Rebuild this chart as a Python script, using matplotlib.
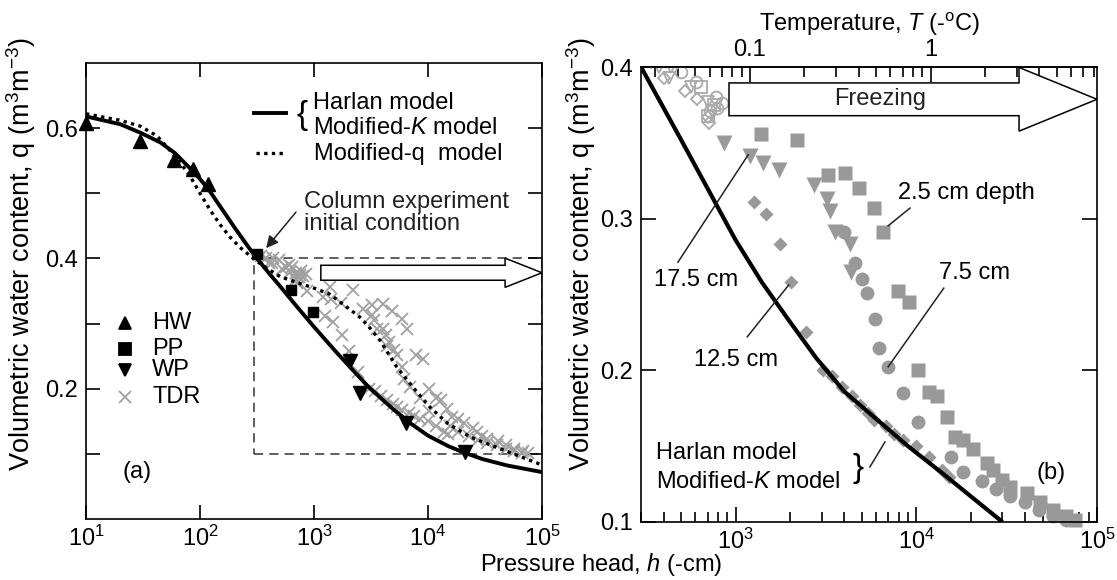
import matplotlib
matplotlib.use('Agg')
import matplotlib.pyplot as plt
import numpy as np
from matplotlib.patches import Polygon, Rectangle
from matplotlib.ticker import FixedLocator, FixedFormatter, NullLocator, NullFormatter

plt.rcParams['font.family'] = ['Liberation Sans', 'DejaVu Sans']
plt.rcParams['mathtext.fontset'] = 'custom'
plt.rcParams['mathtext.rm'] = 'Liberation Sans'
plt.rcParams['mathtext.it'] = 'Liberation Sans:italic'
plt.rcParams['font.size'] = 17

# ---------------- data: panel (a) ----------------
hw_h = [10, 30, 59, 87, 117]
hw_t = [0.608, 0.580, 0.551, 0.537, 0.515]
pp_h = [316, 631, 980]
pp_t = [0.407, 0.352, 0.318]
wp_h = [2070, 2520, 6460, 21000]
wp_t = [0.243, 0.193, 0.147, 0.103]

harlan_a_h = [10, 20, 30, 45, 60, 80, 100, 120, 150, 200, 250, 300, 400, 500, 700,
              1000, 1500, 2000, 3000, 4000, 5000, 7000, 10000, 15000, 20000, 30000,
              50000, 100000]
harlan_a_t = [0.618, 0.606, 0.593, 0.578, 0.562, 0.540, 0.522, 0.505, 0.480, 0.448,
              0.424, 0.405, 0.378, 0.358, 0.327, 0.295, 0.260, 0.236, 0.203, 0.183,
              0.168, 0.147, 0.128, 0.112, 0.103, 0.092, 0.082, 0.072]

modq_h = [10, 20, 30, 42, 55, 71, 82, 100, 122, 150, 183, 224, 275, 355, 505, 710,
          980, 1380, 1950, 2520, 3000, 3800, 5340, 7400, 10500, 14800, 23400, 40000,
          100000]
modq_t = [0.622, 0.612, 0.603, 0.588, 0.565, 0.541, 0.526, 0.500, 0.475, 0.452,
          0.433, 0.417, 0.404, 0.389, 0.372, 0.363, 0.355, 0.345, 0.325, 0.310,
          0.296, 0.274, 0.233, 0.202, 0.171, 0.147, 0.126, 0.110, 0.083]

# ---------------- data: panel (b) ----------------
sq_h = [1390, 2190, 3240, 4020, 4800, 5870, 6550, 7890, 9080, 10200, 11700, 13100,
        14800, 16400, 18200, 20700, 24600, 26700, 30000, 33200, 40800, 48400, 57100,
        67600, 76000]
sq_t = [0.356, 0.352, 0.329, 0.330, 0.320, 0.307, 0.291, 0.252, 0.245, 0.200, 0.186,
        0.183, 0.169, 0.156, 0.154, 0.148, 0.139, 0.134, 0.128, 0.123, 0.119, 0.113,
        0.108, 0.104, 0.101]

ci_h = [4000, 4560, 5020, 5350, 5890, 6200, 6980, 8440, 10200, 15600, 18200, 23000,
        27500, 33000, 40000, 48000, 57000, 67000]
ci_t = [0.291, 0.271, 0.260, 0.251, 0.234, 0.215, 0.202, 0.185, 0.166, 0.143, 0.133,
        0.127, 0.122, 0.117, 0.113, 0.108, 0.104, 0.101]

tr_h = [862, 1200, 1420, 1730, 2710, 3210, 3350, 3560, 4280, 4370]
tr_t = [0.350, 0.341, 0.337, 0.332, 0.322, 0.313, 0.305, 0.291, 0.283, 0.265]

di_h = [1260, 1470, 1760, 2030, 2440, 3040, 3410, 3900, 4400, 4900, 5400, 5870,
        6760, 7500, 8500, 10000, 11700, 13900, 15100]
di_t = [0.311, 0.303, 0.283, 0.258, 0.225, 0.200, 0.196, 0.189, 0.183, 0.177, 0.172,
        0.167, 0.163, 0.158, 0.154, 0.150, 0.143, 0.134, 0.130]

# open (unfrozen) markers
odi_h = [340, 402, 525, 613, 713, 700]
odi_t = [0.403, 0.393, 0.384, 0.379, 0.363, 0.367]
otr_h = [377, 437, 428, 565, 700, 743]
otr_t = [0.400, 0.400, 0.393, 0.387, 0.377, 0.371]
oci_h = [497, 601, 776, 845, 795, 727]
oci_t = [0.397, 0.390, 0.380, 0.376, 0.373, 0.371]
osq_h = [643, 760, 700]
osq_t = [0.387, 0.375, 0.368]

harlan_b_h = [300, 400, 500, 700, 1000, 1400, 2000, 2800, 4000, 6000, 9000, 14000,
              20000, 30000]
harlan_b_t = [0.400, 0.373, 0.352, 0.320, 0.286, 0.258, 0.232, 0.208, 0.186, 0.168,
              0.150, 0.132, 0.117, 0.100]

tdr_h = sq_h + ci_h + tr_h + di_h + odi_h + otr_h + oci_h + osq_h
tdr_t = sq_t + ci_t + tr_t + di_t + odi_t + otr_t + oci_t + osq_t

GRAY = '#999999'
LGRAY = '#aaaaaa'
ylabel = 'Volumetric water content, q (m$^3$m$^{-3}$)'
YLAB_FS = 19.5

fig = plt.figure(figsize=(11.17, 5.8), dpi=100)
axa = fig.add_axes([86/1117, 1-519/580, 456/1117, 456/580])
axb = fig.add_axes([641/1117, 1-522/580, 456/1117, 455/580])

# ================= panel (a) =================
ax = axa
ax.set_xscale('log')
ax.plot(tdr_h, tdr_t, ls='none', marker='x', ms=9, mew=1.3, color='#a0a0a0', zorder=2)
ax.plot(modq_h, modq_t, color='black', lw=2.4, ls=(0, (1, 1.3)), zorder=3)
ax.plot(harlan_a_h, harlan_a_t, color='black', lw=2.8, zorder=3, solid_capstyle='butt')
ax.plot(hw_h, hw_t, ls='none', marker='^', ms=10, color='black', zorder=4, clip_on=False)
ax.plot(pp_h, pp_t, ls='none', marker='s', ms=7.5, color='black', zorder=4)
ax.plot(wp_h, wp_t, ls='none', marker='v', ms=10, color='black', zorder=4)
ax.add_patch(Rectangle((300, 0.1), 1e5 - 300, 0.3, fill=False, ls=(0, (6, 4)),
                       lw=1.1, ec='#333333', zorder=1))
ax.set_xlim(10, 1e5)
ax.set_ylim(0, 0.7)
ax.xaxis.set_major_locator(FixedLocator([10, 100, 1000, 1e4, 1e5]))
ax.xaxis.set_major_formatter(FixedFormatter(['$10^1$', '$10^2$', '$10^3$', '$10^4$', '$10^5$']))
ax.xaxis.set_minor_locator(NullLocator())
ax.yaxis.set_major_locator(FixedLocator([0.1, 0.2, 0.3, 0.4, 0.5, 0.6]))
ax.yaxis.set_major_formatter(FixedFormatter(['', '0.2', '', '0.4', '', '0.6']))
ax.tick_params(which='both', direction='in', top=True, right=True, length=10, width=1.2)
ax.tick_params(axis='x', pad=5)
ax.tick_params(axis='y', pad=6)
for s in ax.spines.values():
    s.set_linewidth(1.2)
ax.set_ylabel(ylabel, fontsize=YLAB_FS)
ax.yaxis.set_label_coords(-0.105, 0.581)

# hollow arrow
bx0, bx1, yc, bh, hh = 0.515, 0.919, 0.540, 0.0164, 0.032
ax.add_patch(Polygon([(bx0, yc - bh), (bx1, yc - bh), (bx1, yc - hh), (1.0, yc),
                      (bx1, yc + hh), (bx1, yc + bh), (bx0, yc + bh)], closed=True,
                     transform=ax.transAxes, fc='white', ec='black', lw=1.1, zorder=5,
                     clip_on=False))

# top legend
ax.plot([0.368, 0.439], [0.890, 0.890], color='black', lw=2.8, transform=ax.transAxes)
ax.plot([0.373, 0.434], [0.803, 0.803], color='black', lw=2.4, ls=(0, (1, 1.3)),
        transform=ax.transAxes)
ax.text(0.474, 0.885, '{', transform=ax.transAxes, ha='center', va='center',
        fontsize=24, fontweight='light')
ax.text(0.497, 0.912, 'Harlan model', transform=ax.transAxes, ha='left', va='center')
ax.text(0.497, 0.857, 'Modified-$K$ model', transform=ax.transAxes, ha='left', va='center')
ax.text(0.500, 0.800, 'Modified-q  model', transform=ax.transAxes, ha='left', va='center')

ax.text(0.477, 0.695, 'Column experiment', transform=ax.transAxes, ha='left',
        va='center', color='#222222')
ax.text(0.477, 0.647, 'initial condition', transform=ax.transAxes, ha='left',
        va='center', color='#222222')
ax.annotate('', xy=(0.395, 0.594), xytext=(0.4605, 0.673), xycoords='axes fraction',
            arrowprops=dict(arrowstyle='-|>', color='#222222', lw=1.1,
                            mutation_scale=18, shrinkA=0, shrinkB=0))

# left legend
lx, tx = 0.0855, 0.145
for y, m, lab, col, ms in [(0.430, '^', 'HW', 'black', 9), (0.373, 's', 'PP', 'black', 8),
                           (0.327, 'v', 'WP', 'black', 9), (0.268, 'x', 'TDR', '#a0a0a0', 8)]:
    ax.plot([lx], [y], marker=m, ms=ms, color=col, mew=1.3, ls='none',
            transform=ax.transAxes)
    ax.text(tx, y, lab, transform=ax.transAxes, ha='left', va='center')
ax.text(0.112, 0.103, '(a)', transform=ax.transAxes, ha='center', va='center')

# ================= panel (b) =================
ax = axb
ax.set_xscale('log')
ax.plot(odi_h, odi_t, ls='none', marker='D', ms=6.5, mfc='none', mec=LGRAY, mew=1.3, zorder=2)
ax.plot(otr_h, otr_t, ls='none', marker='v', ms=9, mfc='none', mec=LGRAY, mew=1.3, zorder=2)
ax.plot(oci_h, oci_t, ls='none', marker='o', ms=8.5, mfc='none', mec=LGRAY, mew=1.3, zorder=2)
ax.plot(osq_h, osq_t, ls='none', marker='s', ms=8, mfc='none', mec=LGRAY, mew=1.3, zorder=2)
ax.plot(sq_h, sq_t, ls='none', marker='s', ms=10, color=GRAY, mec='none', zorder=2, clip_on=False)
ax.plot(ci_h, ci_t, ls='none', marker='o', ms=10, color=GRAY, mec='none', zorder=2, clip_on=False)
ax.plot(tr_h, tr_t, ls='none', marker='v', ms=11, color=GRAY, mec='none', zorder=2)
ax.plot(di_h, di_t, ls='none', marker='D', ms=7, color=GRAY, mec='none', zorder=2)
ax.plot(harlan_b_h, harlan_b_t, color='black', lw=3.0, zorder=3, solid_capstyle='butt')
ax.set_xlim(300, 1e5)
ax.set_ylim(0.1, 0.4)
ax.xaxis.set_major_locator(FixedLocator([1e3, 1e4, 1e5]))
ax.xaxis.set_major_formatter(FixedFormatter(['$10^3$', '$10^4$', '$10^5$']))
minors = [m * 10**e for e in (2, 3, 4) for m in range(2, 10) if 300 <= m * 10**e <= 1e5]
ax.xaxis.set_minor_locator(FixedLocator(minors))
ax.xaxis.set_minor_formatter(NullFormatter())
ax.yaxis.set_major_locator(FixedLocator([0.1, 0.2, 0.3, 0.4]))
ax.yaxis.set_major_formatter(FixedFormatter(['0.1', '0.2', '0.3', '0.4']))
ax.tick_params(which='major', direction='in', top=False, right=True, length=11, width=1.2)
ax.tick_params(which='minor', direction='in', top=False, right=False, length=7, width=1.2)
ax.tick_params(axis='x', pad=5)
ax.tick_params(axis='y', pad=6)
for s in ax.spines.values():
    s.set_linewidth(1.2)
ax.set_ylabel(ylabel, fontsize=YLAB_FS)
ax.yaxis.set_label_coords(-0.094, 0.589)

K = 12000.0
sec = ax.secondary_xaxis('top', functions=(lambda h: np.asarray(h) / K,
                                           lambda T: np.asarray(T) * K))
sec.set_xticks([0.1, 1])
sec.set_xticklabels(['0.1', '1'])
tmin = [m * 10.0**e for e in (-2, -1, 0) for m in range(2, 10)]
sec.xaxis.set_minor_locator(FixedLocator([t for t in tmin if 300 / K <= t <= 1e5 / K]))
sec.xaxis.set_minor_formatter(NullFormatter())
sec.tick_params(which='major', direction='in', length=11, width=1.2, pad=4)
sec.tick_params(which='minor', direction='in', length=7, width=1.2)
sec.spines['top'].set_linewidth(1.2)
sec.set_xlabel('Temperature, $T$ (-$^{\\mathrm{o}}$C)', labelpad=6)

# Freezing arrow
bx0, bx1, yc, bh, hh = 0.193, 0.829, 0.929, 0.036, 0.070
ax.add_patch(Polygon([(bx0, yc - bh), (bx1, yc - bh), (bx1, yc - hh), (1.0, yc),
                      (bx1, yc + hh), (bx1, yc + bh), (bx0, yc + bh)], closed=True,
                     transform=ax.transAxes, fc='white', ec='black', lw=1.1, zorder=5,
                     clip_on=False))
ax.text(0.524, 0.930, 'Freezing', transform=ax.transAxes, ha='center', va='center',
        zorder=6, color='#222222')

def leader(p0, p1):
    ax.plot([p0[0], p1[0]], [p0[1], p1[1]], color='#222222', lw=1.1,
            transform=ax.transAxes, zorder=6)

ax.text(0.5625, 0.723, '2.5 cm depth', transform=ax.transAxes, ha='left', va='center')
leader((0.590, 0.690), (0.542, 0.651))
ax.text(0.653, 0.547, '7.5 cm', transform=ax.transAxes, ha='left', va='center')
leader((0.664, 0.514), (0.542, 0.341))
ax.text(0.0276, 0.532, '17.5 cm', transform=ax.transAxes, ha='left', va='center')
leader((0.081, 0.571), (0.235, 0.807))
ax.text(0.116, 0.356, '12.5 cm', transform=ax.transAxes, ha='left', va='center')
leader((0.233, 0.407), (0.324, 0.521))
ax.text(0.033, 0.152, 'Harlan model', transform=ax.transAxes, ha='left', va='center')
ax.text(0.033, 0.088, 'Modified-$K$ model', transform=ax.transAxes, ha='left', va='center')
ax.text(0.476, 0.117, '}', transform=ax.transAxes, ha='center', va='center',
        fontsize=24, fontweight='light')
leader((0.502, 0.121), (0.535, 0.176))
ax.text(0.899, 0.108, '(b)', transform=ax.transAxes, ha='center', va='center')

fig.text(601/1117, 1 - 565/580, 'Pressure head, $h$ (-cm)', ha='center', va='center')

fig.savefig('out.png', dpi=100)
